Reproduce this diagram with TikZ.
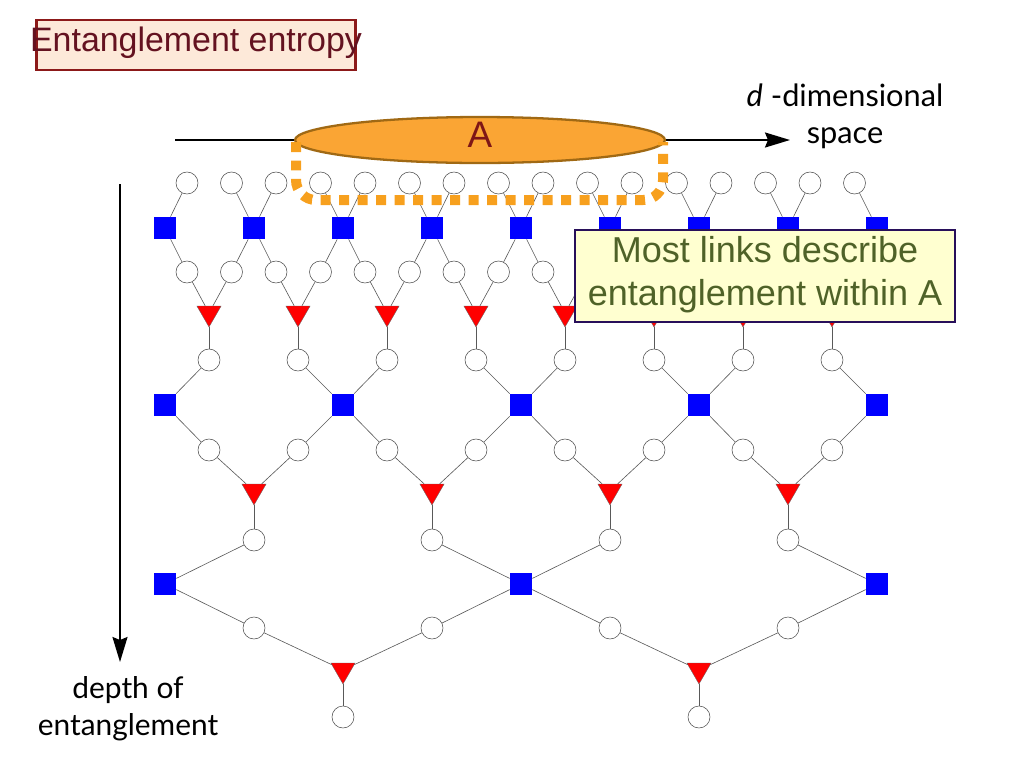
\documentclass[tikz,border=0pt]{standalone}
\usepackage{fontspec}
\setmainfont{Liberation Sans}
\newfontfamily\gillfont{Lato}
\usetikzlibrary{shapes.geometric,arrows.meta}

\definecolor{regionA}{RGB}{250,165,52}
\definecolor{regionAedge}{RGB}{160,105,20}
\definecolor{cutline}{RGB}{247,160,30}
\definecolor{titlefill}{RGB}{253,233,217}
\definecolor{titleedge}{RGB}{140,25,25}
\definecolor{titletext}{RGB}{100,18,32}
\definecolor{notefill}{RGB}{255,255,208}
\definecolor{noteedge}{RGB}{40,15,90}
\definecolor{notetext}{RGB}{79,98,40}

\tikzset{
  site/.style={circle,draw=black!70,fill=white,line width=0.3pt,minimum size=0.44cm,inner sep=0pt},
  disent/.style={rectangle,fill=blue,minimum size=0.44cm,inner sep=0pt},
  isom/.style={regular polygon,regular polygon sides=3,shape border rotate=180,fill=red,draw=black!60,line width=0.2pt,minimum size=0.56cm,inner sep=0pt},
  leg/.style={draw=black!65,line width=0.35pt},
  axis/.style={line width=1.1pt,-{Stealth[length=0.5cm,width=0.3cm,inset=0.06cm]}},
}

\begin{document}
\begin{tikzpicture}[x=0.02cm,y=-0.02cm]
  \useasboundingbox (0,0) rectangle (1024,768);

  \coordinate (xs) at (175,140);
  \coordinate (xe) at (790,140);
  \coordinate (ds) at (120,184);
  \coordinate (de) at (120,662);
  \draw[axis] (xs) -- (xe);
  \draw[axis] (ds) -- (de);

  \foreach \i in {0,...,15} {
    \node[site] (t\i) at ({187+44.5*\i},183) {};
    \node[site] (u\i) at ({187+44.5*\i},272) {};
  }
  \foreach \k in {0,...,8}
    \node[disent] (a\k) at ({165+89*\k},228) {};
  \foreach \j in {0,...,7} {
    \node[isom] (b\j) at ({209+89*\j},313) {};
    \node[site] (v\j) at ({209+89*\j},360) {};
    \node[site] (x\j) at ({209+89*\j},450) {};
  }
  \foreach \m in {0,...,4}
    \node[disent] (c\m) at ({165+178*\m},405) {};
  \foreach \j in {0,...,3} {
    \node[isom] (d\j) at ({254+178*\j},491) {};
    \node[site] (y\j) at ({254+178*\j},540) {};
    \node[site] (z\j) at ({254+178*\j},628) {};
  }
  \foreach \m in {0,...,2}
    \node[disent] (e\m) at ({165+356*\m},584) {};
  \foreach \j in {0,1} {
    \node[isom] (f\j) at ({343+356*\j},670) {};
    \node[site] (g\j) at ({343+356*\j},717) {};
  }

  \foreach \i in {0,...,15} {
    \pgfmathtruncatemacro\k{(\i+1)/2}
    \pgfmathtruncatemacro\j{\i/2}
    \draw[leg] (t\i) -- (a\k);
    \draw[leg] (a\k) -- (u\i);
    \draw[leg] (u\i) -- (b\j);
  }
  \foreach \j in {0,...,7} {
    \pgfmathtruncatemacro\m{(\j+1)/2}
    \pgfmathtruncatemacro\n{\j/2}
    \draw[leg] (b\j) -- (v\j);
    \draw[leg] (v\j) -- (c\m);
    \draw[leg] (c\m) -- (x\j);
    \draw[leg] (x\j) -- (d\n);
  }
  \foreach \j in {0,...,3} {
    \pgfmathtruncatemacro\m{(\j+1)/2}
    \pgfmathtruncatemacro\n{\j/2}
    \draw[leg] (d\j) -- (y\j);
    \draw[leg] (y\j) -- (e\m);
    \draw[leg] (e\m) -- (z\j);
    \draw[leg] (z\j) -- (f\n);
  }
  \draw[leg] (f0) -- (g0);
  \draw[leg] (f1) -- (g1);

  \node[ellipse,fill=regionA,draw=regionAedge,line width=1.3pt,minimum width=7.4cm,minimum height=0.92cm] (A) at (480,140) {};
  \node[text=titleedge!90!black,font=\fontsize{21}{25}\selectfont] (Alab) at (480,135) {A};
  \draw[cutline,line width=0.2cm,dash pattern=on 0.2cm off 0.17cm,rounded corners=0.4cm]
    (296,142) -- (296,200) -- (663,200) -- (663,142);

  \node[draw=titleedge,fill=titlefill,line width=1.6pt,minimum width=6.38cm,minimum height=1cm,inner sep=0pt] (titlebox) at (196,45) {};
  \node[text=titletext,font=\fontsize{19.3}{23}\selectfont] (title) at (196,43) {Entanglement entropy};

  \node[font=\gillfont\fontsize{17.5}{21}\selectfont,align=center] (space) at (845,116)
    {{\itshape d} -dimensional\\space};
  \node[font=\gillfont\fontsize{17}{21}\selectfont,align=center] (depth) at (128,709)
    {depth of\\entanglement};

  \node[draw=noteedge,fill=notefill,line width=1.6pt,minimum width=7.6cm,minimum height=1.84cm,inner sep=0pt] (notebox) at (765,276) {};
  \node[text=notetext,font=\fontsize{20.5}{24.5}\selectfont,align=center] (note) at (765,275)
    {Most links describe\\entanglement within A};
\end{tikzpicture}
\end{document}
